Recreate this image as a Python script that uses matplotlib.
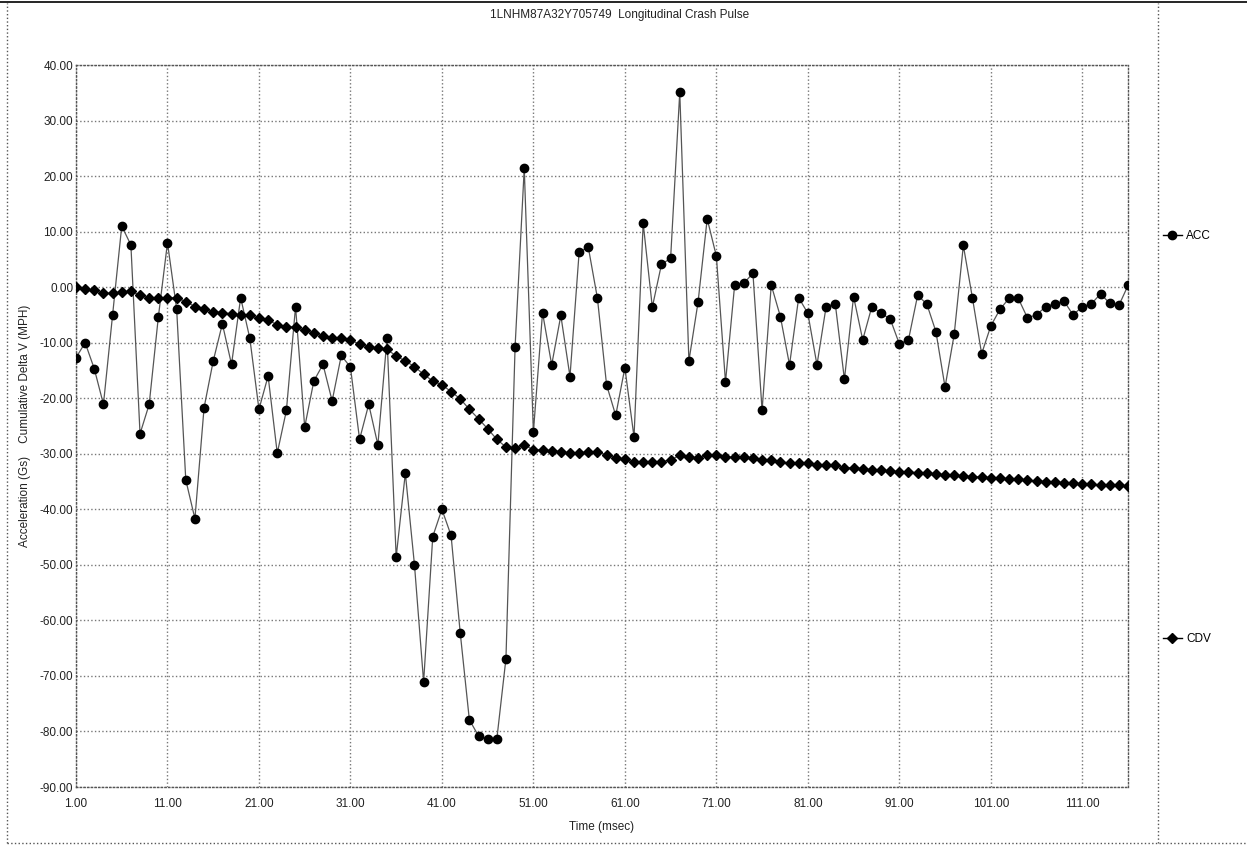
import numpy as np
import matplotlib
matplotlib.use("Agg")
import matplotlib.pyplot as plt
from matplotlib.lines import Line2D

plt.rcParams['font.family'] = ['Liberation Sans', 'DejaVu Sans']
plt.rcParams['axes.unicode_minus'] = False

# ---- data (time step = 1 msec) ----
time_ms = list(range(1, 117))

acc = [-12.7, -10.0, -14.7, -21.1, -5.0, 11.0, 7.6, -26.4, -21.1, -5.4,
       8.0, -3.9, -34.7, -41.7, -21.7, -13.3, -6.6, -13.9, -1.9, -9.2,
       -22.0, -16.0, -29.9, -22.2, -3.5, -25.2, -16.9, -13.9, -20.5, -12.3,
       -14.4, -27.4, -21.1, -28.4, -9.2, -48.6, -33.5, -50.0, -71.1, -44.9,
       -40.0, -44.7, -62.2, -77.9, -80.8, -81.4, -81.4, -66.9, -10.7, 21.4,
       -26.1, -4.6, -14.0, -5.1, -16.1, 6.3, 7.2, -2.0, -17.6, -23.1,
       -14.5, -27.0, 11.5, -3.6, 4.1, 5.2, 35.1, -13.3, -2.7, 12.3,
       5.6, -17.1, 0.4, 0.7, 2.5, -22.2, 0.4, -5.3, -14.0, -1.9,
       -4.7, -14.0, -3.5, -3.0, -16.6, -1.7, -9.5, -3.5, -4.7, -5.7,
       -10.2, -9.5, -1.5, -3.0, -8.0, -18.0, -8.5, 7.5, -2.0, -12.0,
       -7.0, -4.0, -2.0, -2.0, -5.5, -5.0, -3.5, -3.0, -2.5, -5.0,
       -3.5, -3.0, -1.2, -2.9, -3.3, 0.3]

cdv = [0.0, -0.3, -0.6, -1.1, -1.1, -0.9, -0.7, -1.5, -1.9, -1.9,
       -1.9, -1.9, -2.6, -3.5, -3.9, -4.4, -4.6, -4.8, -5.0, -5.1,
       -5.6, -5.9, -6.8, -7.1, -7.2, -7.8, -8.2, -8.8, -9.1, -9.2,
       -9.5, -10.3, -10.7, -11.0, -11.2, -12.4, -13.3, -14.3, -15.7, -16.9,
       -17.6, -18.8, -20.1, -22.0, -23.7, -25.5, -27.4, -28.8, -28.9, -28.4,
       -29.3, -29.3, -29.5, -29.6, -29.9, -29.9, -29.6, -29.7, -30.2, -30.7,
       -31.0, -31.5, -31.4, -31.4, -31.4, -31.1, -30.3, -30.5, -30.8, -30.2,
       -30.2, -30.6, -30.6, -30.6, -30.8, -31.1, -31.1, -31.4, -31.7, -31.7,
       -31.7, -32.0, -32.1, -32.1, -32.5, -32.5, -32.7, -32.9, -33.0, -33.1,
       -33.2, -33.3, -33.4, -33.5, -33.6, -33.8, -33.9, -34.0, -34.1, -34.2,
       -34.3, -34.4, -34.5, -34.6, -34.8, -34.9, -35.0, -35.1, -35.2, -35.3,
       -35.4, -35.5, -35.6, -35.6, -35.7, -35.8]

x_ticks = list(range(1, 112, 10))
y_ticks = list(range(-90, 41, 10))

W, H = 1247, 846
fig = plt.figure(figsize=(W / 100, H / 100), dpi=100)
ax = fig.add_axes([76 / W, 1 - 787 / H, (1128 - 76) / W, (787 - 65) / H])

# series
ax.plot(time_ms, acc, color='#555555', lw=0.9, marker='o', ms=6,
        mfc='black', mec='black', zorder=3)
ax.plot(time_ms, cdv, color='#555555', lw=0.9, marker='D', ms=4.8,
        mfc='black', mec='black', zorder=3)

ax.set_xlim(1, 116)
ax.set_ylim(-90, 40)
ax.set_xticks(x_ticks)
ax.set_xticklabels([f"{t:.2f}" for t in x_ticks])
ax.set_yticks(y_ticks)
ax.set_yticklabels([f"{t:.2f}" for t in y_ticks])
ax.tick_params(length=0, labelsize=8.5, colors='#222222')
ax.tick_params(axis='x', pad=8)
ax.tick_params(axis='y', pad=2)

ax.grid(True, ls=':', color='#777777', lw=1.0)
for s in ax.spines.values():
    s.set_linestyle(':')
    s.set_color('#555555')
    s.set_linewidth(1.0)

ax.set_xlabel('Time (msec)', fontsize=8.5, color='#222222', labelpad=8)
ax.set_ylabel('Acceleration (Gs)    Cumulative Delta V (MPH)', fontsize=8.5,
              color='#222222', labelpad=6)
fig.text(620 / W, 1 - 15 / H, '1LNHM87A32Y705749  Longitudinal Crash Pulse',
         ha='center', va='center', fontsize=8.5, color='#222222')

# legend entries placed separately like the original
h_acc = Line2D([], [], color='black', lw=1.0, marker='o', ms=6)
h_cdv = Line2D([], [], color='black', lw=1.0, marker='D', ms=4.8)
fig.legend([h_acc], ['ACC'], loc='center left', frameon=False,
           bbox_to_anchor=(1152 / W, 1 - 236 / H), fontsize=8.5,
           handlelength=1.6, handletextpad=0.4)
fig.legend([h_cdv], ['CDV'], loc='center left', frameon=False,
           bbox_to_anchor=(1152 / W, 1 - 639 / H), fontsize=8.5,
           handlelength=1.6, handletextpad=0.4)

# outer frame lines of the scanned page
fig.add_artist(Line2D([1158 / W, 1158 / W], [0.003, 0.997], ls=':',
                      color='#555555', lw=1.0))
fig.add_artist(Line2D([7 / W, 7 / W], [0.003, 0.997], ls=':',
                      color='#555555', lw=1.0))
fig.add_artist(Line2D([7 / W, 1.0], [1 - 843 / H, 1 - 843 / H], ls=':',
                      color='#555555', lw=1.0))
fig.add_artist(Line2D([0.0, 1.0], [1 - 2 / H, 1 - 2 / H], color='black',
                      lw=1.2))

fig.savefig('out.png', dpi=100, facecolor='white')
